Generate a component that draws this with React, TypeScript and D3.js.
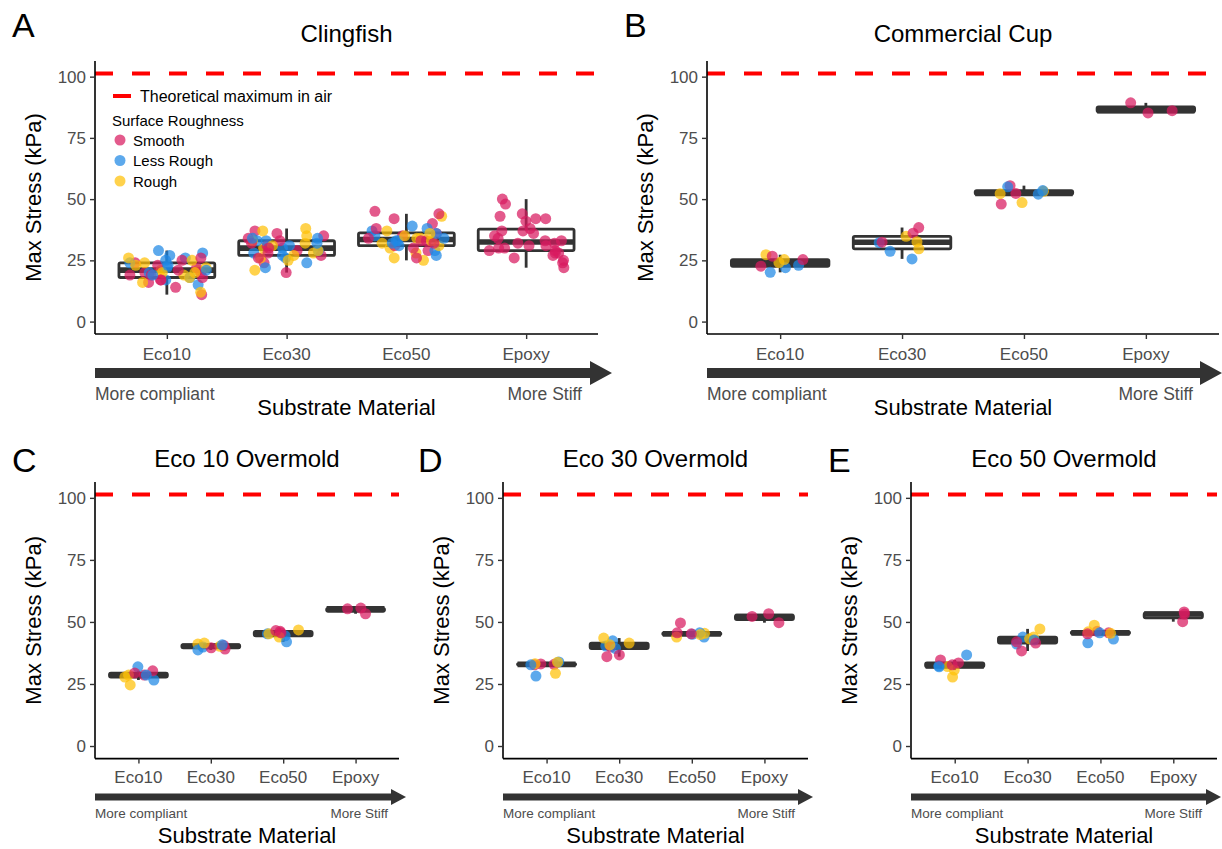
import React, { useEffect, useRef } from 'react';
import * as d3 from 'd3';

// categories and legend
const materials = ['Eco10', 'Eco30', 'Eco50', 'Epoxy'];
const roughness = ['Smooth', 'Less Rough', 'Rough'];
const roughColors = ['#D81B60', '#1E88E5', '#FFC107'];
const yTicks = [0, 25, 50, 75, 100];
const airMax = 101.325;

// Max stress (kPa), one list per material: Eco10, Eco30, Eco50, Epoxy
const clingfishSmooth = [
  [11, 14, 16, 17, 18, 19, 20, 20, 21, 22, 23, 24, 25, 26, 19, 17],
  [20, 24, 27, 29, 30, 31, 32, 33, 34, 35, 36, 37, 28, 26],
  [26, 29, 30, 31, 32, 33, 34, 35, 36, 38, 40, 42, 44, 45, 33],
  [50, 48, 44, 43, 42, 42, 41, 38, 37, 37, 36, 35, 34, 33, 32, 32, 31, 30, 30, 29, 28, 28, 27, 26, 25, 24, 22, 29, 31, 33],
];
const clingfishLessRough = [
  [15, 17, 19, 20, 21, 22, 23, 24, 25, 26, 27, 28, 29, 18],
  [22, 24, 26, 27, 29, 30, 31, 32, 33, 34, 34, 33, 28],
  [27, 29, 31, 32, 33, 34, 35, 36, 37, 38, 39, 33],
  [],
];
const clingfishRough = [
  [12, 16, 18, 19, 20, 21, 22, 23, 24, 25, 26, 21, 20],
  [21, 25, 27, 28, 29, 30, 32, 33, 35, 37, 38, 31, 26],
  [25, 26, 28, 30, 31, 32, 33, 34, 35, 36, 37, 43, 34],
  [],
];

const cupSmooth = [[26.7, 25.3, 22.6], [38.4, 36.1, 32.4], [52.3, 55.5, 48.0], [89.3, 86.1, 85.2]];
const cupLessRough = [[22.0, 20.1, 23.0], [32.2, 28.7, 25.6], [55.0, 53.5, 52.0], []];
const cupRough = [[27.3, 25.3, 24.1], [34.8, 32.6, 29.7], [53.2, 52.2, 48.6], []];

const eco10Smooth = [[30.3, 29.4, 28.6], [40.5, 39.1, 39.6], [46.2, 45.6, 46.5], [55.6, 53.3, 55.3]];
const eco10LessRough = [[31.9, 28.6, 26.6], [38.7, 39.9, 40.8], [45.2, 44.4, 42.0], []];
const eco10Rough = [[28.6, 27.8, 24.6], [41.1, 41.5, 40.2], [45.2, 43.9, 46.8], []];

const eco30Smooth = [[33.1, 32.7, 32.9], [39.9, 36.7, 36.0], [49.6, 45.2, 45.6], [53.3, 52.2, 49.7]];
const eco30LessRough = [[33.9, 32.7, 28.2], [42.4, 39.3, 40.3], [45.6, 43.9, 45.0], []];
const eco30Rough = [[33.8, 29.3, 33.2], [41.5, 43.5, 40.8], [45.4, 43.9, 44.9], []];

const eco50Smooth = [[34.7, 33.5, 32.7], [38.3, 41.5, 42.0], [45.6, 45.2, 46.2], [53.2, 54.0, 50.1]];
const eco50LessRough = [[36.7, 32.3, 31.9], [41.1, 43.9, 42.7], [43.1, 41.6, 45.6], []];
const eco50Rough = [[30.6, 27.8, 32.0], [43.9, 47.2, 43.2], [48.7, 46.0, 45.4], []];

const rows = {
  top: { top: 61, bottom: 334, letterY: 37, titleY: 33, tickY: 354, arrowY: 373, arrowT: 10, headH: 24, headL: 22, moreY: 394, moreSize: 17.5, xTitleY: 407 },
  bottom: { top: 482, bottom: 758.6, letterY: 472, titleY: 458, tickY: 777, arrowY: 797, arrowT: 7, headH: 16, headL: 15, moreY: 813, moreSize: 13.5, xTitleY: 835 },
};

const panels = [
  { letter: 'A', title: 'Clingfish', series: [clingfishSmooth, clingfishLessRough, clingfishRough], row: 'top', x0: 95, x1: 598, arrowEnd: 612, stiffRight: 582, letterX: 12, jitter: 0.33, legend: true },
  { letter: 'B', title: 'Commercial Cup', series: [cupSmooth, cupLessRough, cupRough], row: 'top', x0: 707, x1: 1219, arrowEnd: 1222, stiffRight: 1193, letterX: 624, jitter: 0.22 },
  { letter: 'C', title: 'Eco 10 Overmold', series: [eco10Smooth, eco10LessRough, eco10Rough], row: 'bottom', x0: 95, x1: 399, arrowEnd: 406, stiffRight: 388, letterX: 12, jitter: 0.22 },
  { letter: 'D', title: 'Eco 30 Overmold', series: [eco30Smooth, eco30LessRough, eco30Rough], row: 'bottom', x0: 503, x1: 808, arrowEnd: 813, stiffRight: 795, letterX: 418, jitter: 0.22 },
  { letter: 'E', title: 'Eco 50 Overmold', series: [eco50Smooth, eco50LessRough, eco50Rough], row: 'bottom', x0: 911, x1: 1217, arrowEnd: 1221, stiffRight: 1202, letterX: 828, jitter: 0.22 },
];

const FONT = '"Liberation Sans", Arial, Helvetica, sans-serif';
const DARK = '#333333';

const App = () => {
  const svgRef = useRef<SVGSVGElement>(null);

  useEffect(() => {
    const svg = d3.select(svgRef.current);
    svg.selectAll('*').remove();
    svg.attr('font-family', FONT);

    panels.forEach((p, pi) => {
      const r = rows[p.row];
      const g = svg.append('g');

      const x = d3.scaleLinear().domain([-0.6, 3.6]).range([p.x0, p.x1]);
      const y = d3.scaleLinear().domain([-5.07, 106.39]).range([r.bottom, r.top]);
      const step = x(1) - x(0);

      // panel letter and title
      g.append('text').attr('x', p.letterX).attr('y', r.letterY)
        .attr('font-size', 34).attr('fill', '#000').text(p.letter);
      g.append('text').attr('x', (p.x0 + p.x1) / 2).attr('y', r.titleY)
        .attr('font-size', 24).attr('text-anchor', 'middle').attr('dominant-baseline', 'central')
        .attr('fill', '#000').text(p.title);

      // theoretical max line
      g.append('line')
        .attr('x1', p.x0).attr('x2', p.x1)
        .attr('y1', y(airMax)).attr('y2', y(airMax))
        .attr('stroke', '#FF0000').attr('stroke-width', 4).attr('stroke-dasharray', '18 19');

      // boxplots
      materials.forEach((m, mi) => {
        const vals = p.series.flatMap(s => s[mi]).sort(d3.ascending);
        if (!vals.length) return;
        const q1 = d3.quantile(vals, 0.25);
        const med = d3.quantile(vals, 0.5);
        const q3 = d3.quantile(vals, 0.75);
        const iqr = q3 - q1;
        const lo = d3.min(vals.filter(v => v >= q1 - 1.5 * iqr));
        const hi = d3.max(vals.filter(v => v <= q3 + 1.5 * iqr));
        const cx = x(mi);
        const hw = step * 0.4;
        const bg = g.append('g').attr('stroke', DARK).attr('stroke-width', 2.8);
        bg.append('line').attr('x1', cx).attr('x2', cx).attr('y1', y(q3)).attr('y2', y(hi));
        bg.append('line').attr('x1', cx).attr('x2', cx).attr('y1', y(q1)).attr('y2', y(lo));
        bg.append('rect')
          .attr('x', cx - hw).attr('width', hw * 2)
          .attr('y', y(q3)).attr('height', Math.max(0.01, y(q1) - y(q3)))
          .attr('fill', '#fff').attr('rx', 1.5);
        bg.append('line').attr('x1', cx - hw).attr('x2', cx + hw)
          .attr('y1', y(med)).attr('y2', y(med)).attr('stroke-width', 5.6);
      });

      // jittered points
      const rand = d3.randomUniform.source(d3.randomLcg(0.17 + pi * 0.11))(-1, 1);
      materials.forEach((m, mi) => {
        const pts = [];
        p.series.forEach((s, si) => s[mi].forEach(v => pts.push({ v, si })));
        // interleave so colours overlap like the original draw order
        pts.sort((a, b) => (a.v * 7.3 + a.si) % 5 - (b.v * 7.3 + b.si) % 5);
        pts.forEach(d => {
          g.append('circle')
            .attr('cx', x(mi) + rand() * p.jitter * step)
            .attr('cy', y(d.v))
            .attr('r', 5.5)
            .attr('fill', roughColors[d.si])
            .attr('fill-opacity', 0.72);
        });
      });

      // axes
      const yAxis = g.append('g').attr('transform', `translate(${p.x0},0)`)
        .call(d3.axisLeft(y).tickValues(yTicks).tickSize(5).tickPadding(4));
      yAxis.select('.domain').attr('d', `M0,${r.top}V${r.bottom}`).attr('stroke', '#000').attr('stroke-width', 1.6);
      yAxis.selectAll('.tick line').attr('stroke', DARK).attr('stroke-width', 1.4);
      yAxis.selectAll('.tick text').attr('font-size', 17).attr('fill', '#4D4D4D').attr('font-family', FONT);

      const xAxis = g.append('g').attr('transform', `translate(0,${r.bottom})`)
        .call(d3.axisBottom(x).tickValues([0, 1, 2, 3]).tickFormat(i => materials[i]).tickSize(5).tickPadding(5));
      xAxis.select('.domain').attr('d', `M${p.x0},0H${p.x1}`).attr('stroke', '#000').attr('stroke-width', 1.6);
      xAxis.selectAll('.tick line').attr('stroke', DARK).attr('stroke-width', 1.4);
      xAxis.selectAll('.tick text').remove();
      materials.forEach((m, mi) => {
        g.append('text').attr('x', x(mi)).attr('y', r.tickY)
          .attr('text-anchor', 'middle').attr('dominant-baseline', 'central')
          .attr('font-size', 17).attr('fill', '#4D4D4D').text(m);
      });

      // stiffness arrow
      const ay = r.arrowY;
      const bx = p.arrowEnd - r.headL;
      g.append('path')
        .attr('d', `M${p.x0},${ay - r.arrowT / 2}H${bx}V${ay - r.headH / 2}L${p.arrowEnd},${ay}L${bx},${ay + r.headH / 2}V${ay + r.arrowT / 2}H${p.x0}Z`)
        .attr('fill', DARK);
      g.append('text').attr('x', p.x0).attr('y', r.moreY)
        .attr('font-size', r.moreSize).attr('fill', '#4D4D4D').attr('dominant-baseline', 'central')
        .text('More compliant');
      g.append('text').attr('x', p.stiffRight).attr('y', r.moreY)
        .attr('font-size', r.moreSize).attr('fill', '#4D4D4D').attr('dominant-baseline', 'central')
        .attr('text-anchor', 'end').text('More Stiff');

      // axis titles
      g.append('text').attr('x', (p.x0 + p.x1) / 2).attr('y', r.xTitleY)
        .attr('font-size', 22).attr('text-anchor', 'middle').attr('dominant-baseline', 'central')
        .attr('fill', '#000').text('Substrate Material');
      g.append('text')
        .attr('transform', `translate(${p.x0 - 62},${(r.top + r.bottom) / 2}) rotate(-90)`)
        .attr('font-size', 22).attr('text-anchor', 'middle').attr('dominant-baseline', 'central')
        .attr('fill', '#000').text('Max Stress (kPa)');

      // legend (panel A only)
      if (p.legend) {
        const lg = g.append('g');
        lg.append('line').attr('x1', 113).attr('x2', 131).attr('y1', 96).attr('y2', 96)
          .attr('stroke', '#FF0000').attr('stroke-width', 4);
        lg.append('text').attr('x', 140).attr('y', 96).attr('font-size', 16)
          .attr('dominant-baseline', 'central').attr('fill', '#000').text('Theoretical maximum in air');
        lg.append('text').attr('x', 112).attr('y', 120).attr('font-size', 15)
          .attr('dominant-baseline', 'central').attr('fill', '#000').text('Surface Roughness');
        roughness.forEach((name, i) => {
          const ly = 140 + i * 20.5;
          lg.append('circle').attr('cx', 120).attr('cy', ly).attr('r', 5.5)
            .attr('fill', roughColors[i]).attr('fill-opacity', 0.72);
          lg.append('text').attr('x', 133).attr('y', ly).attr('font-size', 15)
            .attr('dominant-baseline', 'central').attr('fill', '#000').text(name);
        });
      }
    });
  }, []);

  return (
    <svg ref={svgRef} width={1222} height={849}
      style={{ position: 'absolute', left: 0, top: 0, background: '#fff' }} />
  );
};

export default App;
